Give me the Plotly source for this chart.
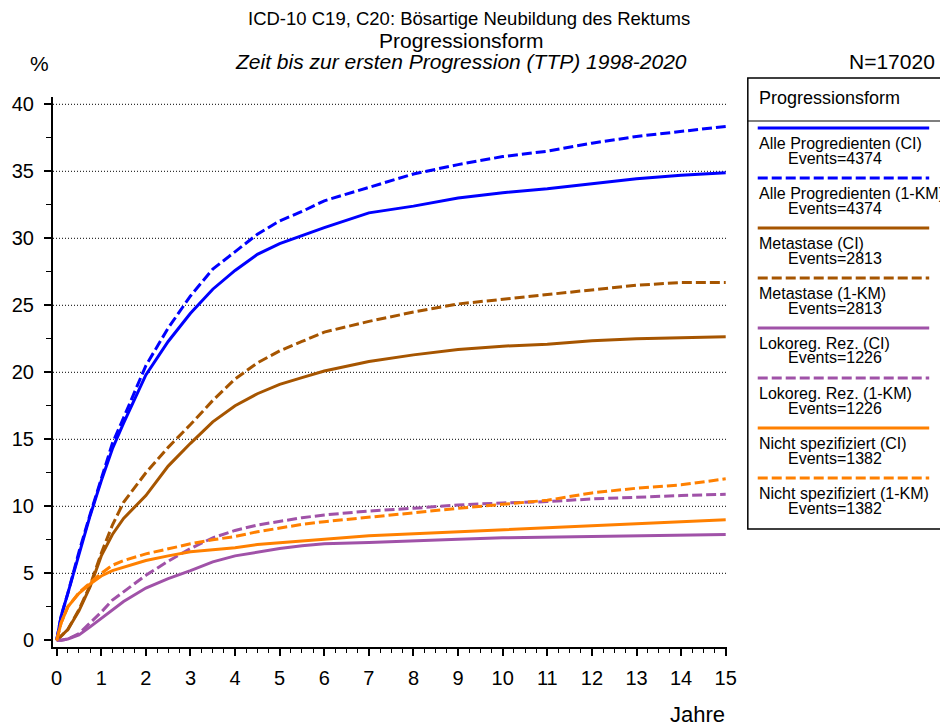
import plotly.graph_objects as go

# ---------------- data ----------------
years = [0, 0.1, 0.25, 0.5, 0.75, 1, 1.25, 1.5, 2, 2.5, 3, 3.5, 4, 4.5, 5, 5.5,
         6, 7, 8, 9, 10, 11, 12, 13, 14, 15]

alle_ci = [0, 1.8, 3.5, 6.5, 9.3, 11.9, 14.3, 16.2, 19.8, 22.3, 24.4, 26.2, 27.6,
           28.8, 29.6, 30.2, 30.8, 31.9, 32.4, 33.0, 33.4, 33.7, 34.1, 34.45, 34.7, 34.9]
alle_km = [0, 1.8, 3.5, 6.6, 9.4, 12.1, 14.7, 16.6, 20.5, 23.3, 25.7, 27.7, 29.0,
           30.3, 31.3, 32.0, 32.8, 33.8, 34.8, 35.5, 36.1, 36.5, 37.1, 37.6, 38.0, 38.35]
meta_ci = [0, 0.3, 0.8, 2.2, 4.0, 6.3, 7.9, 9.1, 10.8, 13.0, 14.7, 16.3, 17.5,
           18.4, 19.1, 19.6, 20.1, 20.8, 21.3, 21.7, 21.95, 22.1, 22.35, 22.5, 22.6, 22.65]
meta_km = [0, 0.3, 0.8, 2.3, 4.1, 6.5, 8.6, 10.3, 12.5, 14.4, 16.1, 17.9, 19.5,
           20.7, 21.6, 22.3, 23.0, 23.8, 24.5, 25.1, 25.45, 25.8, 26.15, 26.5, 26.7, 26.7]
loko_ci = [0, 0.0, 0.1, 0.4, 1.0, 1.65, 2.3, 2.9, 3.9, 4.6, 5.2, 5.85, 6.3,
           6.6, 6.85, 7.05, 7.2, 7.3, 7.45, 7.55, 7.65, 7.7, 7.75, 7.8, 7.85, 7.9]
loko_km = [0, 0.0, 0.1, 0.5, 1.3, 2.1, 3.0, 3.6, 4.85, 5.9, 6.85, 7.65, 8.2,
           8.6, 8.9, 9.15, 9.35, 9.65, 9.85, 10.1, 10.25, 10.35, 10.55, 10.7, 10.8, 10.9]
nspez_ci = [0, 1.3, 2.5, 3.5, 4.2, 4.8, 5.2, 5.45, 5.95, 6.3, 6.6, 6.75, 6.9,
            7.15, 7.3, 7.45, 7.55, 7.8, 7.95, 8.15, 8.3, 8.45, 8.55, 8.7, 8.85, 9.0]
nspez_km = [0, 1.3, 2.5, 3.55, 4.3, 5.0, 5.6, 5.95, 6.45, 6.85, 7.2, 7.5, 7.75,
            8.1, 8.4, 8.65, 8.85, 9.2, 9.5, 9.85, 10.15, 10.45, 11.0, 11.35, 11.6, 12.05]

series_names = ["Alle Progredienten (CI)", "Alle Progredienten (1-KM)",
                "Metastase (CI)", "Metastase (1-KM)",
                "Lokoreg. Rez. (CI)", "Lokoreg. Rez. (1-KM)",
                "Nicht spezifiziert (CI)", "Nicht spezifiziert (1-KM)"]
series_values = [alle_ci, alle_km, meta_ci, meta_km, loko_ci, loko_km, nspez_ci, nspez_km]
series_events = [4374, 4374, 2813, 2813, 1226, 1226, 1382, 1382]

x_ticks = list(range(0, 16))
y_ticks = [0, 5, 10, 15, 20, 25, 30, 35, 40]
grid_values = [5, 10, 15, 20, 25, 30, 35, 40]

title_lines = ["ICD-10 C19, C20: Bösartige Neubildung des Rektums",
               "Progressionsform",
               "<i>Zeit bis zur ersten Progression (TTP) 1998-2020</i>"]
n_text = "N=17020"
legend_title = "Progressionsform"

# ---------------- style ----------------
colors = ["#0000FF", "#0000FF", "#A65500", "#A65500",
          "#A052A8", "#A052A8", "#FF8000", "#FF8000"]
dashes = ["solid", "10px,4px"] * 4
FONT = "Liberation Sans, Arial, sans-serif"

W, H = 940, 728
L, R, T, B = 47, 727, 97, 647


def px(xp):
    return (xp - L) / (R - L)


def py(yp):
    return (B - yp) / (B - T)


fig = go.Figure()
for name, vals, col, dsh in zip(series_names, series_values, colors, dashes):
    fig.add_trace(go.Scatter(x=years, y=vals, mode="lines", name=name,
                             line=dict(color=col, width=3, dash=dsh),
                             showlegend=False))

shapes = []
for g in grid_values:
    shapes.append(dict(type="line", xref="paper", yref="y", x0=0, x1=1, y0=g, y1=g,
                       line=dict(color="black", width=1, dash="1px,2px"), layer="below"))

annotations = []
# titles
title_specs = [(467, 18, 18.5), (459, 40, 21), (459, 62, 21)]
for txt, (cx, cy, fs) in zip(title_lines, title_specs):
    annotations.append(dict(text=txt, xref="paper", yref="paper", x=px(cx), y=py(cy),
                            xanchor="center", yanchor="middle", showarrow=False,
                            font=dict(family=FONT, size=fs, color="black")))
annotations.append(dict(text="%", xref="paper", yref="paper", x=px(33), y=py(64),
                        xanchor="center", yanchor="middle", showarrow=False,
                        font=dict(family=FONT, size=21, color="black")))
annotations.append(dict(text=n_text, xref="paper", yref="paper", x=px(939), y=py(62),
                        xanchor="right", yanchor="middle", showarrow=False,
                        font=dict(family=FONT, size=21, color="black")))
annotations.append(dict(text="Jahre", xref="paper", yref="paper", x=px(727), y=py(714),
                        xanchor="right", yanchor="middle", showarrow=False,
                        font=dict(family=FONT, size=22, color="black")))

# legend box (drawn manually, samples above text)
box_l, box_r, box_t, box_b, head_y = 748, 965, 78, 529, 121
shapes.append(dict(type="rect", xref="paper", yref="paper", x0=px(box_l), x1=px(box_r),
                   y0=py(box_b), y1=py(box_t), line=dict(color="black", width=1.5)))
shapes.append(dict(type="line", xref="paper", yref="paper", x0=px(box_l), x1=px(box_r),
                   y0=py(head_y), y1=py(head_y), line=dict(color="black", width=1.2)))
annotations.append(dict(text=legend_title, xref="paper", yref="paper", x=px(757), y=py(98),
                        xanchor="left", yanchor="middle", showarrow=False,
                        font=dict(family=FONT, size=18, color="black")))
for i, (name, ev, col, dsh) in enumerate(zip(series_names, series_events, colors, dashes)):
    y0 = 128 + 50 * i
    shapes.append(dict(type="line", xref="paper", yref="paper", x0=px(758), x1=px(931),
                       y0=py(y0), y1=py(y0), line=dict(color=col, width=3, dash=dsh)))
    annotations.append(dict(text=name, xref="paper", yref="paper", x=px(757), y=py(y0 + 15),
                            xanchor="left", yanchor="middle", showarrow=False,
                            font=dict(family=FONT, size=16, color="black")))
    annotations.append(dict(text=f"Events={ev}", xref="paper", yref="paper", x=px(787),
                            y=py(y0 + 30), xanchor="left", yanchor="middle", showarrow=False,
                            font=dict(family=FONT, size=16, color="black")))

fig.update_layout(
    width=W, height=H,
    margin=dict(l=L, r=W - R, t=T, b=H - B, pad=0),
    paper_bgcolor="white", plot_bgcolor="white",
    font=dict(family=FONT, size=20, color="black"),
    shapes=shapes, annotations=annotations, showlegend=False,
)
xspan = (R - L) / 45.0
x0 = -3.7 / 45.0
fig.update_xaxes(range=[x0, x0 + xspan], tickvals=x_ticks, ticktext=[str(v) for v in x_ticks],
                 showgrid=False, zeroline=False, showline=True, linecolor="black", linewidth=2,
                 ticks="outside", ticklen=7, tickwidth=1.5, tickcolor="black",
                 ticklabelstandoff=5, tickfont=dict(size=20),
                 minor=dict(dtick=0.25, tick0=0, ticks="outside", ticklen=4, tickwidth=1,
                            tickcolor="black", showgrid=False))
yspan = (B - T) / 13.4
y0v = -6.7 / 13.4
fig.update_yaxes(range=[y0v, y0v + yspan], tickvals=y_ticks, ticktext=[str(v) for v in y_ticks],
                 showgrid=False, zeroline=False, showline=True, linecolor="black", linewidth=2,
                 ticks="outside", ticklen=7, tickwidth=1.5, tickcolor="black",
                 ticklabelstandoff=6, tickfont=dict(size=20),
                 minor=dict(dtick=2.5, tick0=0, ticks="outside", ticklen=5, tickwidth=1,
                            tickcolor="black", showgrid=False))

fig.write_html("out.html", config={"displayModeBar": False})

# remove the default page margin so the figure sits at the window's top-left corner
with open("out.html", "r", encoding="utf-8") as f:
    html = f.read()
html = html.replace("<head>", "<head><style>html,body{margin:0;padding:0;overflow:hidden;}</style>", 1)
with open("out.html", "w", encoding="utf-8") as f:
    f.write(html)
